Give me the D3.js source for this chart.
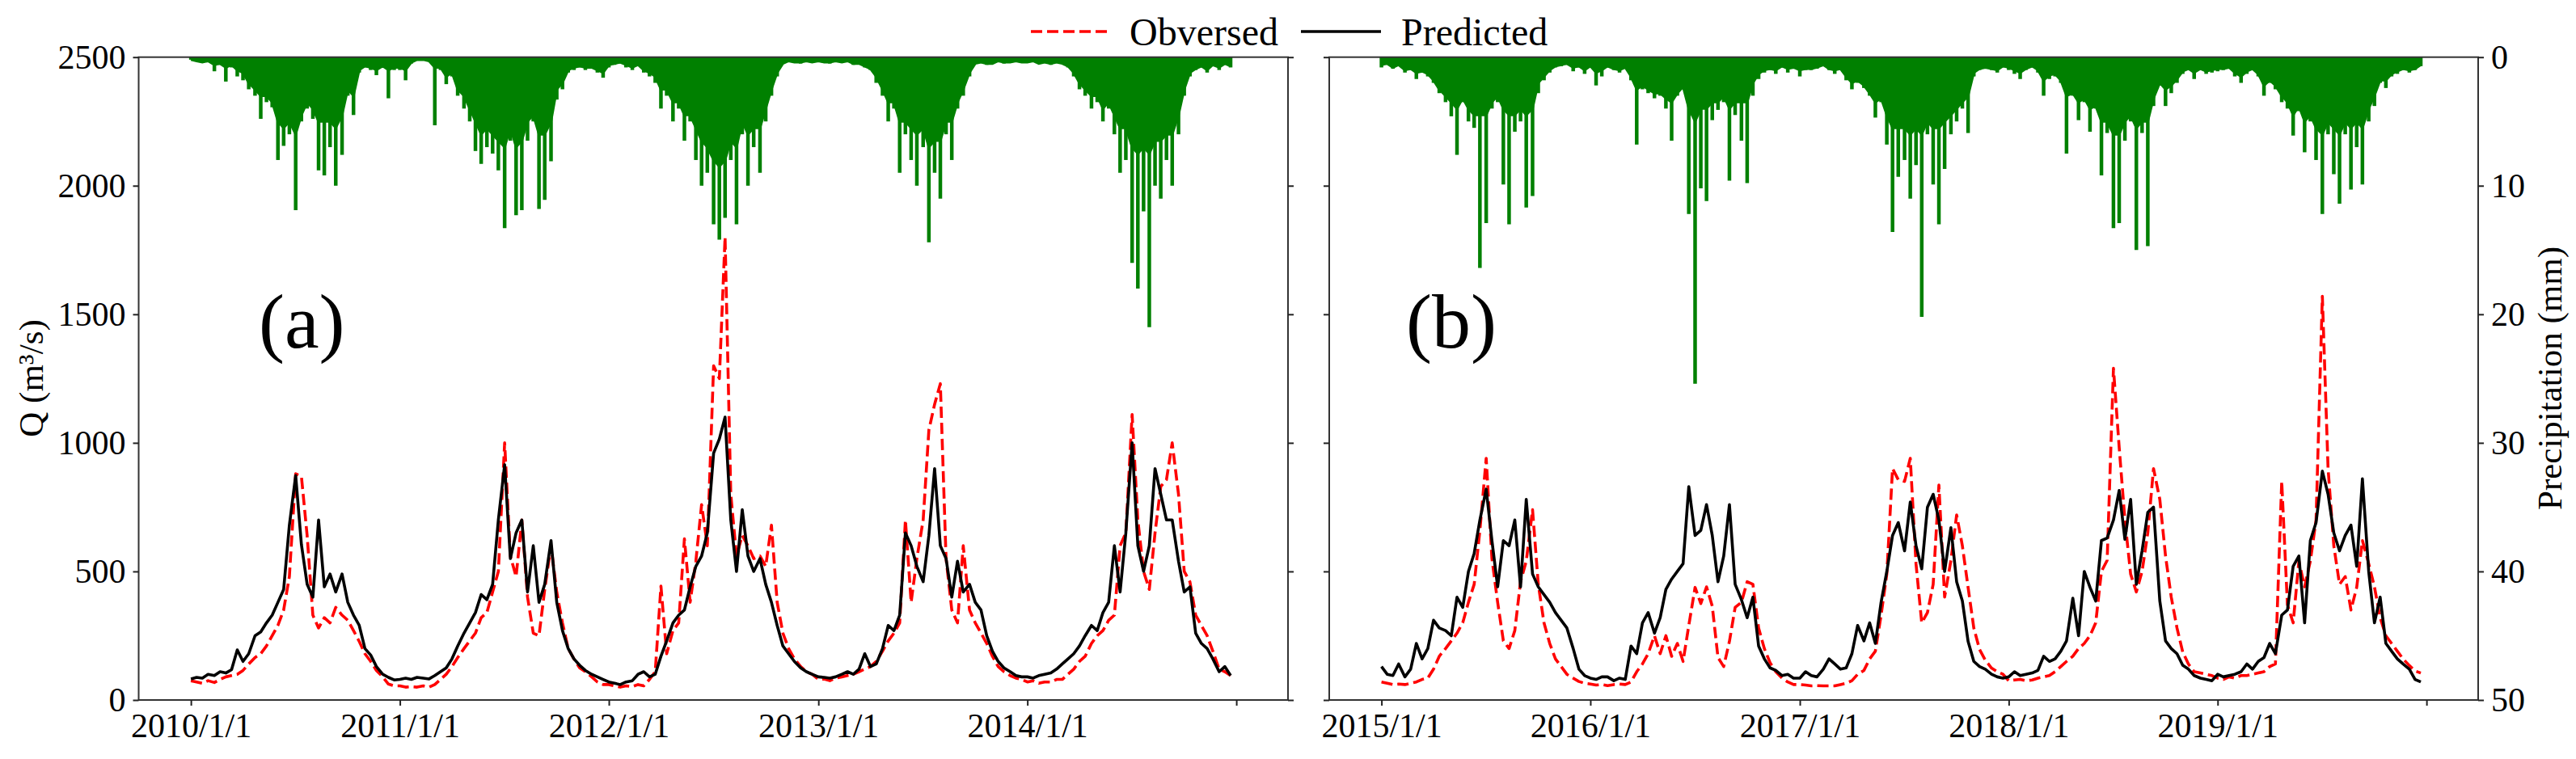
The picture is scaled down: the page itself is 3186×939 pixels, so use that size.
<!DOCTYPE html>
<html><head><meta charset="utf-8">
<script src="https://cdn.jsdelivr.net/npm/d3@7"></script>
<style>body{margin:0;background:#fff}svg{display:block}text{font-family:'Liberation Serif','Times New Roman',serif}</style>
</head><body><svg id="c" width="3186" height="939"></svg>
<script>
// ---------------- data (36 samples per year, ~10-day step) ----------------
const yearsA = [2010, 2011, 2012, 2013, 2014];
const yearsB = [2015, 2016, 2017, 2018, 2019];
const qTicks = [0, 500, 1000, 1500, 2000, 2500];
const pTicks = [0, 10, 20, 30, 40, 50];
const legendLabels = ["Obversed", "Predicted"];

// Observed discharge (m3/s), panel (a) 2010-2014
const obsA = [
  75,70,65,75,68,80,90,95,100,115,140,165,180,210,250,290,350,480,880,870,640,330,280,320,300,360,330,310,270,228,180,150,115,90,62,55,
  55,50,52,50,55,50,60,80,100,130,165,200,230,260,320,340,420,500,1000,560,480,700,400,260,250,430,600,420,300,200,160,125,110,90,70,60,
  60,55,50,55,52,60,55,80,110,443,180,270,300,627,380,540,760,600,1300,1250,1800,800,560,640,600,550,560,520,680,380,260,200,160,130,110,100,
  80,82,75,85,90,95,100,110,120,130,150,190,230,260,300,700,380,550,700,1050,1150,1230,550,350,300,600,350,300,260,220,170,130,110,95,85,80,
  70,75,65,70,70,80,80,100,120,150,170,220,250,270,310,330,600,650,1110,700,500,430,650,830,857,1000,800,500,459,330,290,250,190,120,110,95
];
// Predicted discharge, panel (a)
const predA = [
  82,88,85,100,95,110,105,118,195,150,180,250,265,300,330,380,430,680,873,605,450,400,700,440,490,420,490,380,330,290,200,175,130,100,88,78,
  80,85,80,88,85,82,95,110,125,160,210,260,300,340,410,390,450,700,915,550,650,700,420,600,380,450,620,380,270,200,160,135,115,100,90,80,
  70,65,60,70,75,100,110,90,100,170,230,300,330,350,440,520,560,650,960,1015,1100,700,500,740,560,500,550,450,380,290,210,180,150,125,110,100,
  90,88,85,90,100,110,100,120,180,130,140,200,290,270,330,650,600,520,460,640,900,600,550,400,540,420,450,380,350,250,190,150,125,110,95,90,
  90,85,95,100,105,120,140,160,180,210,250,290,270,340,380,600,420,650,1000,600,500,600,900,800,700,700,540,420,440,260,220,200,160,110,130,95
];
// Precipitation (mm), panel (a): daily maximum within each step ...
const rainPeakA = [
  0.2,0.3,0.4,0.3,1.1,0.6,1.9,0.8,1.5,1.8,2.5,3.0,4.8,3.5,3.9,8.0,6.9,6.0,11.9,5.0,4.0,4.8,8.8,9.2,7.0,10.0,7.6,3.0,4.5,1.2,0.8,1.0,1.4,0.8,3.2,1.0,
  1.0,1.8,0.5,0.2,0.2,0.3,5.3,1.0,2.1,1.5,3.0,4.0,5.0,7.3,8.3,7.0,7.5,8.8,13.3,6.5,12.3,11.9,6.5,5.0,11.8,11.1,8.1,3.3,2.5,1.2,1.0,0.8,1.0,0.9,1.2,1.6,
  0.8,0.6,0.5,0.8,1.0,0.7,1.2,1.5,2.0,4.0,3.0,5.0,4.0,6.5,5.0,8.0,10.0,9.0,13.0,14.2,12.5,8.0,13.0,6.0,10.0,7.0,9.0,5.0,3.0,1.5,0.5,0.3,0.4,0.5,0.3,0.4,
  0.3,0.4,0.5,0.3,0.4,0.3,0.6,0.5,0.8,1.0,2.0,3.0,5.0,4.0,9.0,6.0,8.0,10.0,7.0,14.4,9.0,11.0,6.0,8.0,4.0,3.0,1.5,0.5,0.4,0.6,0.5,0.3,0.5,0.4,0.3,0.4,
  0.4,0.3,0.5,0.4,0.6,0.4,0.5,0.8,1.5,2.5,3.0,4.0,3.5,5.0,4.0,6.0,9.0,8.0,16.0,18.0,12.0,21.0,10.0,11.0,8.0,10.0,6.0,3.0,1.5,1.0,0.8,1.2,0.7,1.0,0.6,0.8
];
// ... and the depth of the solid (every-day) band in the same step
const rainBaseA = [
  0.2,0.3,0.4,0.3,0.6,0.5,0.8,0.6,1.0,1.2,2.0,2.5,3.0,3.0,3.5,5.0,5.5,5.0,6.0,4.5,3.5,4.0,5.0,5.0,5.0,5.5,4.5,2.5,3.0,1.0,0.7,0.8,1.0,0.7,1.0,0.8,
  0.8,1.0,0.4,0.2,0.2,0.3,0.8,0.8,1.5,1.2,2.5,3.0,4.0,5.0,6.0,5.5,6.0,6.5,7.0,5.5,7.0,6.5,5.0,4.5,6.0,6.0,5.0,2.5,2.0,1.0,0.8,0.7,0.8,0.8,1.0,1.2,
  0.6,0.5,0.4,0.6,0.8,0.6,1.0,1.2,1.5,2.5,2.5,3.5,3.5,4.5,4.5,5.5,6.5,7.0,8.0,8.5,8.0,6.5,7.0,5.0,6.0,5.5,5.5,4.0,2.5,1.2,0.5,0.3,0.4,0.4,0.3,0.4,
  0.3,0.4,0.4,0.3,0.4,0.3,0.5,0.5,0.7,0.9,1.5,2.5,3.5,3.5,5.0,5.0,5.5,6.0,5.5,7.0,6.5,6.5,5.0,5.0,3.5,2.5,1.2,0.5,0.4,0.5,0.5,0.3,0.4,0.4,0.3,0.4,
  0.4,0.3,0.5,0.4,0.5,0.4,0.5,0.7,1.2,2.0,2.5,3.0,3.0,4.0,3.5,4.5,5.5,5.5,7.0,7.5,7.0,7.5,6.5,6.5,6.0,6.0,4.5,2.5,1.2,0.9,0.7,1.0,0.6,0.8,0.5,0.7
];
// Observed discharge, panel (b) 2015-2019
const obsB = [
  70,65,60,62,60,65,70,80,85,120,170,200,230,260,300,380,450,660,940,550,380,230,200,270,460,540,740,450,300,220,160,130,100,85,72,65,
  62,58,60,56,60,62,60,70,110,140,180,250,180,250,170,220,150,290,438,375,440,365,165,130,228,360,380,460,450,280,200,145,110,85,70,60,
  60,58,55,56,55,55,55,60,65,75,100,115,160,190,330,490,900,857,850,940,530,300,340,450,836,400,543,720,600,438,280,197,155,124,110,100,
  75,78,80,75,78,85,90,95,110,130,150,170,200,220,250,300,500,543,1290,983,700,490,420,500,650,900,780,560,400,280,187,140,110,105,100,95,
  85,80,90,85,95,95,100,105,110,130,140,850,370,300,540,440,540,700,1570,900,600,450,480,350,438,620,530,440,320,250,220,190,160,134,113,105
];
// Predicted discharge, panel (b)
const predB = [
  130,100,95,140,90,120,220,160,200,310,280,270,250,400,360,500,570,700,820,620,440,620,600,700,440,780,490,440,410,380,340,310,280,200,120,95,
  85,80,90,90,75,85,80,210,180,300,340,260,320,430,470,500,530,830,640,660,760,640,460,560,760,450,390,320,400,210,160,125,115,95,100,85,
  85,110,95,90,120,160,140,120,125,180,290,230,300,220,380,500,640,690,580,770,600,510,750,800,700,500,670,460,385,228,150,130,120,100,90,85,
  90,110,95,100,105,115,170,150,160,190,230,396,250,500,438,385,620,630,700,815,625,780,450,580,730,750,385,230,200,180,135,120,95,85,80,75,
  100,90,95,100,110,140,120,150,165,220,180,330,350,520,560,300,620,690,890,800,650,580,640,680,520,860,500,300,400,220,190,160,140,120,80,70
];
// Precipitation (mm), panel (b): step maximum and solid band depth
const rainPeakB = [
  0.8,0.6,0.9,0.7,1.2,1.0,1.7,1.2,1.5,2.0,2.8,3.5,4.6,7.6,3.5,5.0,5.5,16.4,12.9,4.0,3.5,9.9,13.0,5.8,5.0,11.7,10.8,2.8,1.8,1.2,0.8,0.7,0.6,1.1,0.8,1.3,
  0.8,2.2,1.5,0.8,1.0,1.2,0.9,1.8,6.8,2.5,2.8,3.2,3.0,4.0,6.5,3.0,2.5,12.2,25.4,10.2,11.2,4.9,4.1,3.5,9.6,4.5,6.5,9.8,3.0,1.7,1.2,1.0,1.3,0.8,1.2,0.9,
  1.5,1.0,1.0,0.9,0.7,1.0,1.3,1.0,1.8,2.5,2.0,2.4,3.0,4.7,3.5,6.8,13.6,9.3,8.0,11.0,8.4,20.2,6.0,9.9,13.0,8.7,6.0,5.0,4.0,5.9,1.5,1.0,0.9,1.0,1.2,0.8,
  1.0,1.3,1.7,1.0,0.8,1.2,3.0,1.7,1.5,2.0,7.5,3.0,4.9,3.5,5.8,4.0,9.2,5.9,13.3,12.9,6.5,5.0,15.0,5.9,14.7,3.8,2.2,3.8,2.8,2.0,1.3,1.0,1.7,1.0,1.3,1.2,
  1.1,1.0,0.9,1.5,2.0,1.3,1.0,1.5,3.0,2.0,2.5,3.5,4.0,6.1,4.2,7.4,5.0,8.0,12.2,6.0,9.1,11.4,6.0,10.3,7.0,9.9,5.0,3.8,2.0,2.4,1.5,1.3,1.0,1.2,1.0,0.7
];
const rainBaseB = [
  0.6,0.5,0.8,0.6,1.0,0.9,1.2,1.1,1.3,1.8,2.5,3.0,3.5,4.0,3.2,4.0,4.5,4.5,4.5,3.5,3.0,4.0,4.5,4.5,4.0,4.5,4.0,2.0,1.5,1.0,0.7,0.6,0.5,0.8,0.7,1.0,
  0.7,1.2,1.0,0.7,0.9,1.0,0.8,1.5,2.5,2.2,2.5,2.8,2.8,3.2,3.5,2.8,2.3,4.0,5.0,4.0,4.0,3.5,3.5,3.0,4.0,3.5,3.5,3.5,2.0,1.3,1.0,0.9,1.0,0.7,0.9,0.8,
  1.0,0.9,0.9,0.8,0.6,0.9,1.0,0.9,1.5,2.0,1.8,2.2,2.8,3.5,3.2,4.5,5.5,5.5,5.5,6.0,5.5,6.0,5.0,5.5,5.5,5.0,4.5,4.0,3.5,3.0,1.2,0.9,0.8,0.9,1.0,0.7,
  0.8,1.0,1.2,0.9,0.7,1.0,1.8,1.4,1.3,1.8,3.0,2.8,3.5,3.2,4.0,3.8,5.0,5.0,6.0,6.0,5.0,4.5,5.5,5.0,5.0,3.2,2.0,2.5,2.2,1.7,1.1,0.9,1.2,0.9,1.1,1.0,
  0.9,0.9,0.8,1.2,1.5,1.1,0.9,1.3,2.2,1.8,2.2,3.0,3.5,4.5,3.8,5.0,4.5,5.5,6.0,5.0,5.5,6.0,5.0,5.5,5.0,5.5,4.0,3.0,1.8,1.8,1.3,1.1,0.9,1.0,0.9,0.6
];

// ---------------- layout ----------------
const FONT = "'Liberation Serif','Times New Roman',serif";
const TOP = 70.7, BOTTOM = 866;
const panels = [
  {years: yearsA, obs: obsA, pred: predA, peak: rainPeakA, base: rainBaseA, x0: 171.5, x1: 1593, tag: "(a)", tagX: 320, leftLab: true, rightLab: false},
  {years: yearsB, obs: obsB, pred: predB, peak: rainPeakB, base: rainBaseB, x0: 1644, x1: 3065, tag: "(b)", tagX: 1739, leftLab: false, rightLab: true}
];

const svg = d3.select("#c");
svg.append("rect").attr("width", 3186).attr("height", 939).attr("fill", "#fff");

const yQ = d3.scaleLinear().domain([0, 2500]).range([BOTTOM, TOP]);
const yP = d3.scaleLinear().domain([0, 50]).range([TOP, BOTTOM]);

function series(years, vals) {
  return vals.map((v, k) => ({
    date: new Date(years[0] + Math.floor(k / 36), 0, 1 + Math.round((k % 36) * 365 / 36)),
    v
  }));
}

function styleAxis(g, size) {
  g.attr("font-family", FONT);
  g.select(".domain").remove();
  g.selectAll(".tick line").attr("stroke", "#222").attr("stroke-width", 2);
  g.selectAll(".tick text").attr("font-size", size).attr("fill", "#000").style("font-family", FONT);
}

panels.forEach(p => {
  const t0 = new Date(p.years[0], 0, 1);
  const t1 = new Date(p.years[p.years.length - 1], 11, 31);
  const span = t1 - t0;
  const x = d3.scaleTime()
    .domain([new Date(+t0 - 0.05 * span), new Date(+t1 + 0.05 * span)])
    .range([p.x0, p.x1]);

  const peak = series(p.years, p.peak);
  const base = series(p.years, p.base);
  const obs = series(p.years, p.obs);
  const pred = series(p.years, p.pred);

  const g = svg.append("g");

  // observed (red dashed)
  g.append("path").datum(obs)
    .attr("d", d3.line().x(d => x(d.date)).y(d => yQ(d.v)))
    .attr("fill", "none").attr("stroke", "#ff0000").attr("stroke-width", 3.6)
    .attr("stroke-dasharray", "14,6").attr("stroke-linejoin", "round");
  // predicted (black)
  g.append("path").datum(pred)
    .attr("d", d3.line().x(d => x(d.date)).y(d => yQ(d.v)))
    .attr("fill", "none").attr("stroke", "#000").attr("stroke-width", 3.6)
    .attr("stroke-linejoin", "round");

  // precipitation (green, hanging from the top): solid band + daily spikes
  g.append("path").datum(base)
    .attr("d", d3.area().x(d => x(d.date)).y0(yP(0)).y1(d => yP(d.v)))
    .attr("fill", "#008000");
  g.append("path").datum(base)
    .attr("d", d3.line().x(d => x(d.date)).y(d => yP(d.v)))
    .attr("fill", "none").attr("stroke", "#008000").attr("stroke-width", 3);
  g.append("g").selectAll("line").data(peak).join("line")
    .attr("x1", d => x(d.date)).attr("x2", d => x(d.date))
    .attr("y1", yP(0)).attr("y2", d => yP(d.v))
    .attr("stroke", "#008000").attr("stroke-width", 4.5);

  // frame
  g.append("rect").attr("x", p.x0).attr("y", TOP)
    .attr("width", p.x1 - p.x0).attr("height", BOTTOM - TOP)
    .attr("fill", "none").attr("stroke", "#333").attr("stroke-width", 2);

  // axes
  const last = p.years[p.years.length - 1];
  const xt = p.years.concat([last + 1]).map(y => new Date(y, 0, 1));
  const gx = g.append("g").attr("transform", `translate(0,${BOTTOM})`)
    .call(d3.axisBottom(x).tickValues(xt).tickSize(7).tickPadding(9)
      .tickFormat(d => d.getFullYear() > last ? "" : `${d.getFullYear()}/1/1`));
  styleAxis(gx, 42);

  const gl = g.append("g").attr("transform", `translate(${p.x0},0)`)
    .call(d3.axisLeft(yQ).tickValues(qTicks).tickSize(7).tickPadding(9)
      .tickFormat(d => p.leftLab ? d : ""));
  styleAxis(gl, 42);

  const gr = g.append("g").attr("transform", `translate(${p.x1},0)`)
    .call(d3.axisRight(yP).tickValues(pTicks).tickSize(7).tickPadding(9)
      .tickFormat(d => p.rightLab ? d : ""));
  styleAxis(gr, 42);

  g.append("text").attr("x", p.tagX).attr("y", 430)
    .attr("font-size", 96).text(p.tag);
});

// axis titles
svg.append("text").attr("transform", "translate(38,468) rotate(-90)")
  .attr("text-anchor", "middle").attr("dy", "0.35em")
  .attr("font-size", 43).text("Q (m³/s)");
svg.append("text").attr("transform", "translate(3153,468) rotate(-90)")
  .attr("text-anchor", "middle").attr("dy", "0.35em")
  .attr("font-size", 43).text("Precipitation (mm)");

// legend
const lg = svg.append("g");
lg.append("line").attr("x1", 1275).attr("x2", 1372).attr("y1", 39).attr("y2", 39)
  .attr("stroke", "#ff0000").attr("stroke-width", 3.6).attr("stroke-dasharray", "14,6");
lg.append("text").attr("x", 1397).attr("y", 56).attr("font-size", 48).text(legendLabels[0]);
lg.append("line").attr("x1", 1609).attr("x2", 1708).attr("y1", 39).attr("y2", 39)
  .attr("stroke", "#000").attr("stroke-width", 3.6);
lg.append("text").attr("x", 1733).attr("y", 56).attr("font-size", 48).text(legendLabels[1]);
</script>
</body></html>
